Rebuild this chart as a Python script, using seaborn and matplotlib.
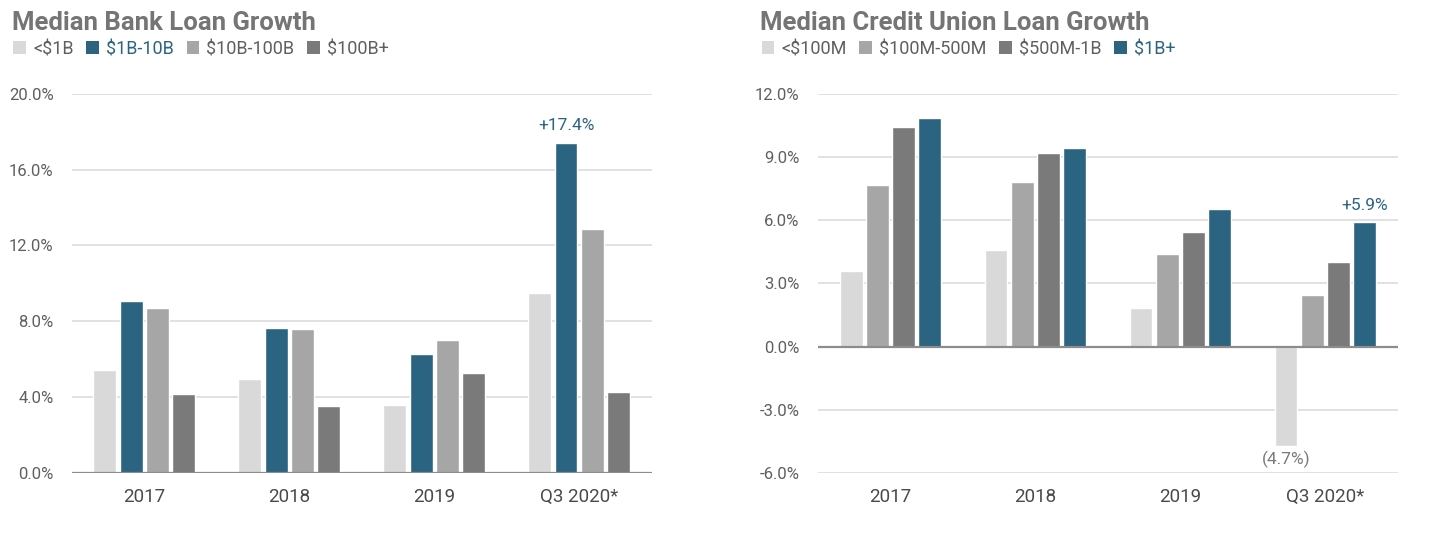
import matplotlib
matplotlib.use("Agg")
import matplotlib.pyplot as plt
from matplotlib.patches import Patch
import pandas as pd
import seaborn as sns

periods = ["2017", "2018", "2019", "Q3 2020*"]

bank_sizes = ["<$1B", "$1B-10B", "$10B-100B", "$100B+"]
bank_colors = ["#d9d9d9", "#2b6480", "#a6a6a6", "#7a7a7a"]
bank_under_1b = [5.45, 4.95, 3.6, 9.5]
bank_1b_10b = [9.05, 7.65, 6.3, 17.4]
bank_10b_100b = [8.7, 7.6, 7.0, 12.85]
bank_100b_plus = [4.15, 3.55, 5.25, 4.25]

cu_sizes = ["<$100M", "$100M-500M", "$500M-1B", "$1B+"]
cu_colors = ["#d9d9d9", "#a6a6a6", "#7a7a7a", "#2b6480"]
cu_under_100m = [3.6, 4.6, 1.85, -4.7]
cu_100m_500m = [7.65, 7.8, 4.4, 2.45]
cu_500m_1b = [10.4, 9.2, 5.45, 4.0]
cu_1b_plus = [10.85, 9.45, 6.55, 5.9]

BLUE = "#2b6480"
TITLE_GRAY = "#757575"
TEXT_GRAY = "#5f5f5f"


def long_frame(sizes, series):
    rows = []
    for size, vals in zip(sizes, series):
        for p, v in zip(periods, vals):
            rows.append({"period": p, "size": size, "growth": v})
    return pd.DataFrame(rows)


bank_df = long_frame(bank_sizes, [bank_under_1b, bank_1b_10b, bank_10b_100b, bank_100b_plus])
cu_df = long_frame(cu_sizes, [cu_under_100m, cu_100m_500m, cu_500m_1b, cu_1b_plus])

sns.set_style("white")
plt.rcParams["font.family"] = ["Roboto", "DejaVu Sans"]

fig = plt.figure(figsize=(14.32, 5.39), dpi=100)
ax1 = fig.add_axes([0.050, 0.1225, 0.405, 0.7035])
ax2 = fig.add_axes([0.571, 0.1225, 0.405, 0.7035])


def draw_panel(ax, df, sizes, colors, ylim, ticks, title, title_x):
    sns.barplot(data=df, x="period", y="growth", hue="size", hue_order=sizes,
                order=periods, palette=colors, width=0.72, gap=0.12,
                legend=False, ax=ax, saturation=1, zorder=3)
    ax.set_ylim(*ylim)
    ax.set_xlim(-0.5, 3.5)
    ax.set_yticks(ticks)
    ax.set_yticklabels([f"{t:.1f}%" for t in ticks])
    for t in ticks:
        if t == 0:
            ax.axhline(0, color="#8c8c8c", lw=1.6, zorder=4)
        else:
            ax.axhline(t, color="#dcdcdc", lw=1.2, zorder=1)
    sns.despine(ax=ax, left=True, bottom=True, top=True, right=True)
    ax.set_xlabel("")
    ax.set_ylabel("")
    ax.tick_params(axis="y", length=0, labelsize=12, labelcolor=TEXT_GRAY, pad=13)
    ax.tick_params(axis="x", length=0, labelsize=13.5, labelcolor="#4a4a4a", pad=11)

    fig.text(title_x, 0.958, title, fontsize=18.5, fontweight="bold",
             color=TITLE_GRAY, va="center", ha="left")
    handles = [Patch(facecolor=c, edgecolor="none") for c in colors]
    leg = fig.legend(handles, sizes, loc="center left",
                     bbox_to_anchor=(title_x - 0.0105, 0.909), ncol=4,
                     frameon=False, handlelength=0.7, handleheight=0.7,
                     handletextpad=0.4, columnspacing=0.7, fontsize=13)
    for txt, c in zip(leg.get_texts(), colors):
        txt.set_color(BLUE if c == BLUE else TEXT_GRAY)


draw_panel(ax1, bank_df, bank_sizes, bank_colors, (0, 20), [0, 4, 8, 12, 16, 20],
           "Median Bank Loan Growth", 0.0085)
draw_panel(ax2, cu_df, cu_sizes, cu_colors, (-6, 12), [-6, -3, 0, 3, 6, 9, 12],
           "Median Credit Union Loan Growth", 0.531)


# value call-outs, positioned from the bar patches
def label_bar(ax, hue_idx, period_idx, text, color, above=True):
    bar = ax.patches[hue_idx * len(periods) + period_idx]
    x = bar.get_x() + bar.get_width() / 2
    y0, y1 = bar.get_y(), bar.get_y() + bar.get_height()
    if above:
        ax.annotate(text, (x, max(y0, y1)), xytext=(0, 7),
                    textcoords="offset points", ha="center", va="bottom",
                    fontsize=12.5, color=color)
    else:
        ax.annotate(text, (x, min(y0, y1)), xytext=(0, -4),
                    textcoords="offset points", ha="center", va="top",
                    fontsize=12.5, color=color)


label_bar(ax1, 1, 3, "+17.4%", BLUE)
label_bar(ax2, 3, 3, "+5.9%", BLUE)
label_bar(ax2, 0, 3, "(4.7%)", "#7a7a7a", above=False)

fig.savefig("out.png", dpi=100)
